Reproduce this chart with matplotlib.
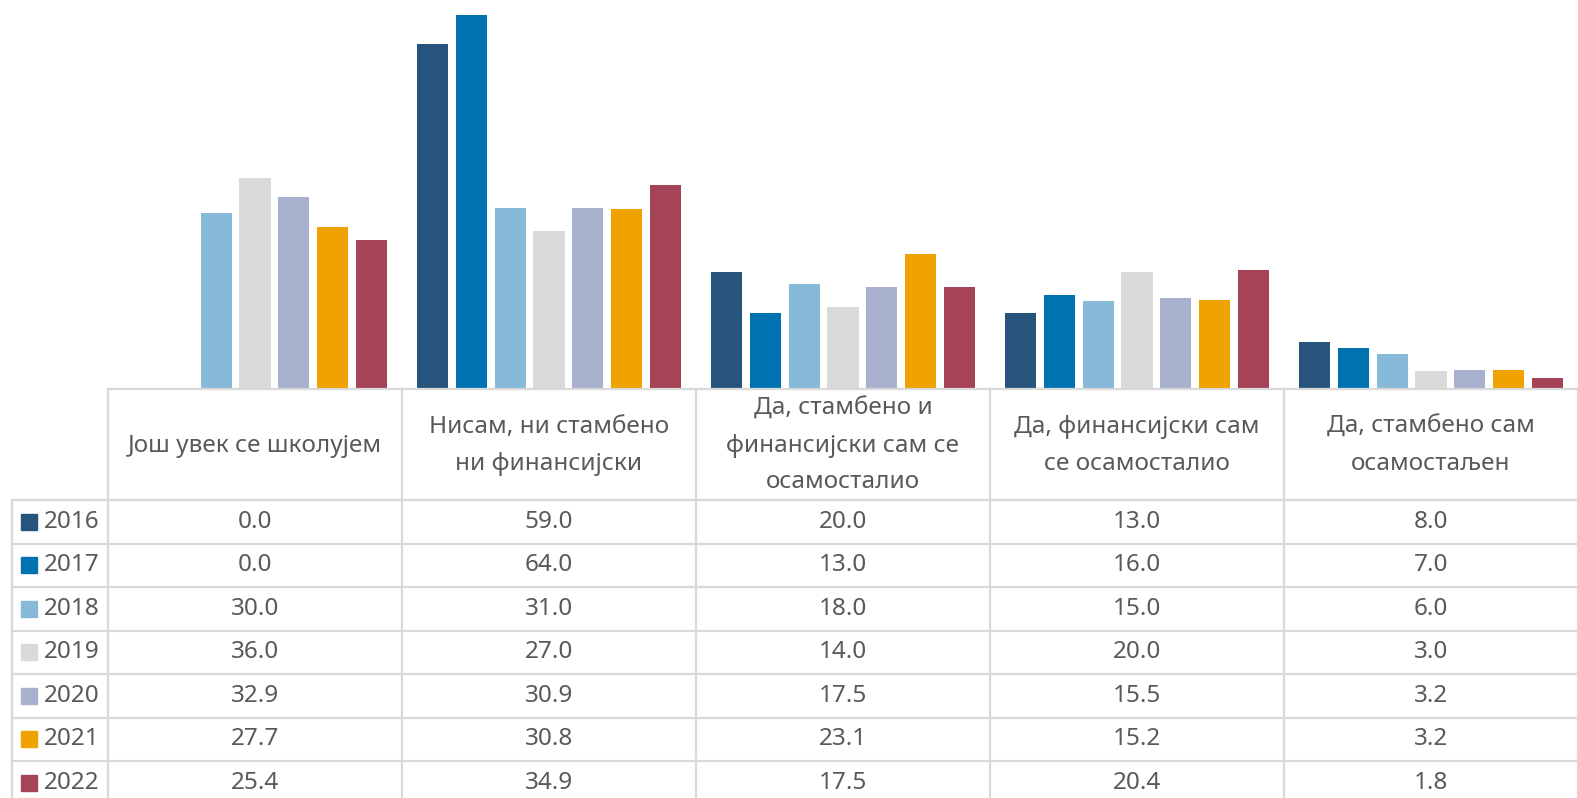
import numpy as np
import matplotlib.pyplot as plt

plt.rcParams['font.family'] = ['Noto Sans', 'DejaVu Sans']

categories = ['Још увек се школујем',
              'Нисам, ни стамбено\nни финансијски',
              'Да, стамбено и\nфинансијски сам се\nосамосталио',
              'Да, финансијски сам\nсе осамосталио',
              'Да, стамбено сам\nосамостаљен']
years = ['2016', '2017', '2018', '2019', '2020', '2021', '2022']
values = {
    '2016': [0.0, 59.0, 20.0, 13.0, 8.0],
    '2017': [0.0, 64.0, 13.0, 16.0, 7.0],
    '2018': [30.0, 31.0, 18.0, 15.0, 6.0],
    '2019': [36.0, 27.0, 14.0, 20.0, 3.0],
    '2020': [32.9, 30.9, 17.5, 15.5, 3.2],
    '2021': [27.7, 30.8, 23.1, 15.2, 3.2],
    '2022': [25.4, 34.9, 17.5, 20.4, 1.8],
}
colors = ['#26547C', '#0072B2', '#86BAD8', '#DADADA', '#A8B2CE', '#F0A200', '#A44456']

W, H = 1578, 798
fig = plt.figure(figsize=(W / 100, H / 100), dpi=100)

# pixel layout
x0 = 108          # left of first category column
col_w = (W - x0) / len(categories)
base = 389        # bar baseline / table top
hdr_bottom = 500
row_h = 43.5
leg_x0 = 12
grid_c = '#D9D9D9'
txt_c = '#595959'
fs = 17.5

# bars
ax = fig.add_axes([x0 / W, (H - base) / H, (W - x0) / W, base / H])
x = np.arange(len(categories))
step, width = 0.132, 0.106
for i, y in enumerate(years):
    ax.bar(x + (i - 3) * step, values[y], width, color=colors[i], zorder=2)
ax.set_xlim(-0.5, len(categories) - 0.5)
ax.set_ylim(0, base / 5.85)
ax.axis('off')

# table overlay in pixel coords
tx = fig.add_axes([0, 0, 1, 1])
tx.set_xlim(0, W)
tx.set_ylim(H, 0)
tx.axis('off')

lw = 1.6
# horizontal lines
tx.plot([x0, W], [base, base], color=grid_c, lw=lw)
for r in range(len(years) + 1):
    yy = hdr_bottom + r * row_h
    tx.plot([leg_x0, W], [yy, yy], color=grid_c, lw=lw)
# vertical lines
for c in range(len(categories) + 1):
    xx = x0 + c * col_w
    tx.plot([xx, xx], [base, H + 10], color=grid_c, lw=lw)
tx.plot([leg_x0, leg_x0], [hdr_bottom, H + 10], color=grid_c, lw=lw)

# header
for c, cat in enumerate(categories):
    tx.text(x0 + (c + 0.5) * col_w, (base + hdr_bottom) / 2 + 1, cat, ha='center', va='center',
            fontsize=fs, color=txt_c, linespacing=1.72)

# rows
for r, y in enumerate(years):
    yc = hdr_bottom + (r + 0.5) * row_h
    tx.add_patch(plt.Rectangle((21, yc - 8), 16, 16, color=colors[r]))
    tx.text(44, yc, y, ha='left', va='center', fontsize=fs, color=txt_c)
    for c in range(len(categories)):
        tx.text(x0 + (c + 0.5) * col_w, yc, f'{values[y][c]:.1f}', ha='center', va='center',
                fontsize=fs, color=txt_c)

fig.savefig('out.png', dpi=100)
